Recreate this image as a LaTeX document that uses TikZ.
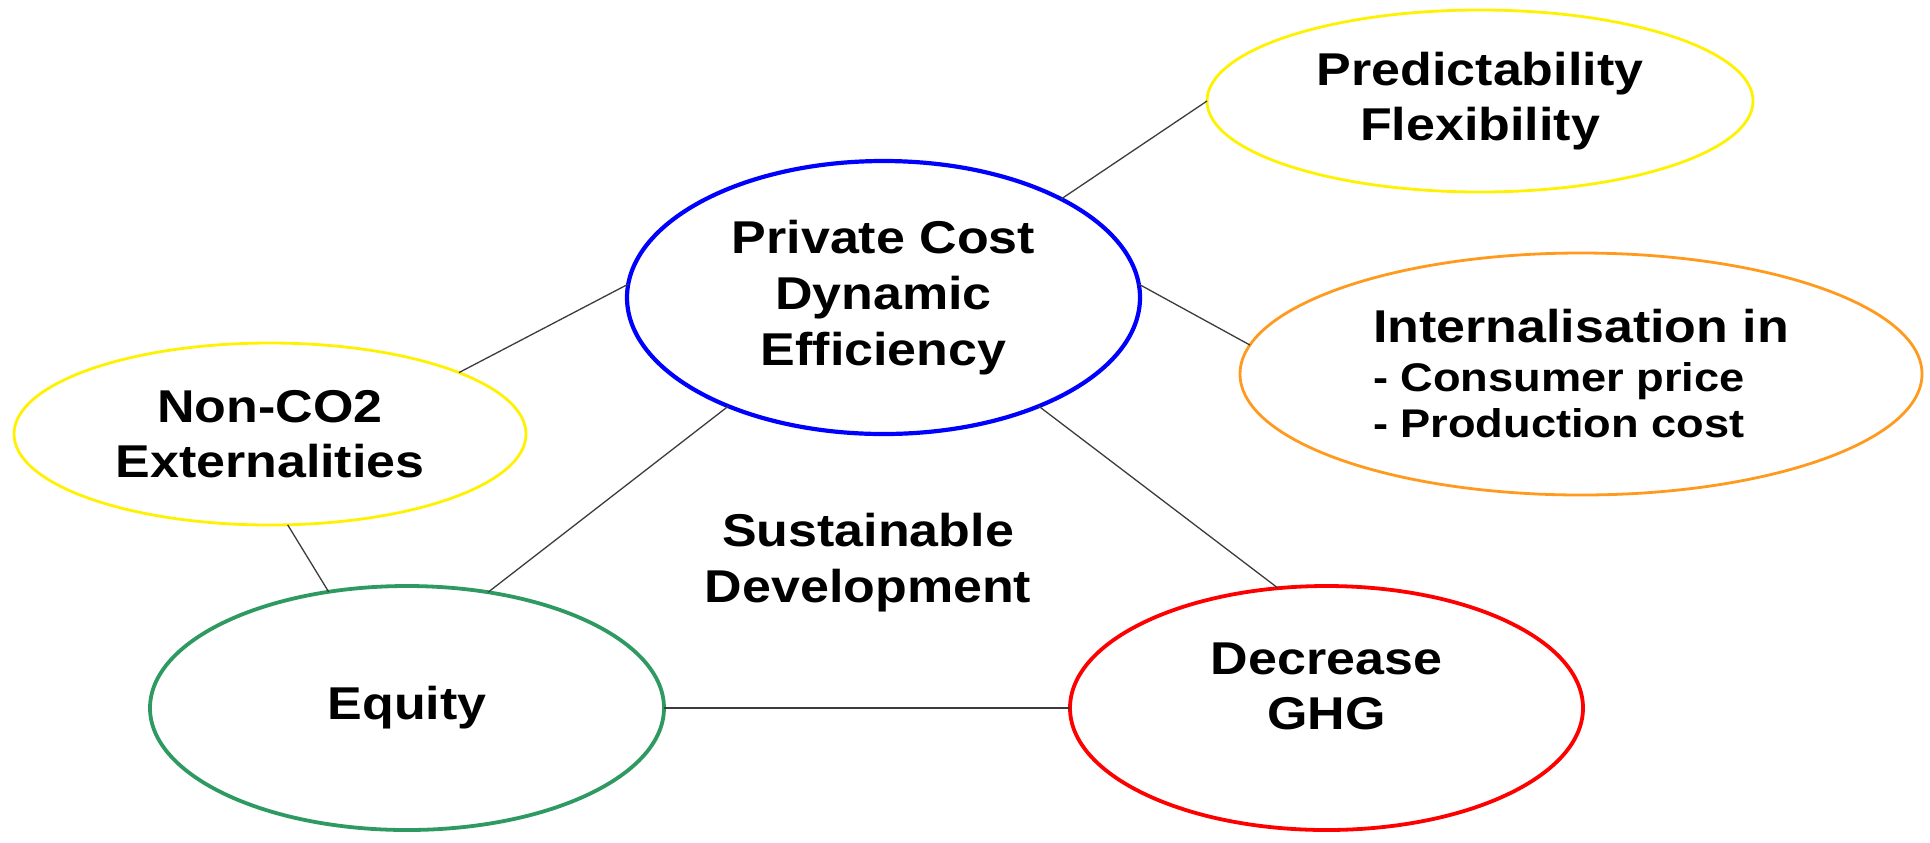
\documentclass[tikz,border=0pt]{standalone}
\usepackage{fontspec}
\setmainfont{Liberation Sans}[FakeStretch=1.13]
\usetikzlibrary{shapes.geometric}
\definecolor{cblue}{HTML}{0000FF}
\definecolor{cyellow}{HTML}{FFF200}
\definecolor{corange}{HTML}{FF9A1E}
\definecolor{cgreen}{HTML}{2E9A62}
\definecolor{cred}{HTML}{FF0000}
\definecolor{clink}{HTML}{3C3C3C}
\begin{document}
\begin{tikzpicture}[x=0.5pt,y=-0.5pt,
  bubble/.style={ellipse,draw,inner sep=0pt,outer sep=0pt,align=center,
    font=\bfseries\fontsize{23}{27.5}\selectfont},
  link/.style={draw=clink,line width=0.65pt}]
  \fill[white] (0,0) rectangle (1930,842);
  \useasboundingbox (0,0) rectangle (1930,842);

  % central goal
  \node[bubble,draw=cblue,line width=2.1pt,minimum width=256.5pt,minimum height=136.5pt,
        font=\bfseries\fontsize{23}{28}\selectfont]
    (pc) at (883.5,297.5) {Private Cost\\Dynamic\\Efficiency};
  \node[bubble,draw=cgreen,line width=1.9pt,minimum width=257pt,minimum height=122pt]
    (eq) at (407,708) {Equity};
  \node[bubble,draw=cred,line width=1.9pt,minimum width=256.5pt,minimum height=122pt,
        text depth=22pt]
    (ghg) at (1326.5,708) {Decrease\\GHG};

  % secondary criteria
  \node[bubble,draw=cyellow,line width=1.4pt,minimum width=273pt,minimum height=91pt]
    (pf) at (1480,101) {Predictability\\Flexibility};
  \node[bubble,draw=cyellow,line width=1.4pt,minimum width=256pt,minimum height=91pt]
    (nc) at (270,434) {Non-CO2\\Externalities};
  \node[bubble,draw=corange,line width=1.4pt,minimum width=341pt,minimum height=121pt,
        align=left,font=\bfseries\fontsize{20}{23.25}\selectfont]
    (int) at (1581,374) {{\fontsize{23}{27.5}\selectfont Internalisation in}\\[1pt]- Consumer price\\- Production cost};

  \node[font=\bfseries\fontsize{23}{28}\selectfont,align=center]
    (sd) at (868,563) {Sustainable\\Development};

  % connectors
  \path[link] (pc.177) -- (nc.18);
  \path[link] (pc.29) -- (pf.180);
  \path[link] (pc.3) -- (int.175);
  \path[link] (pc.-145) -- (eq.55.5);
  \path[link] (pc.-35) -- (ghg.112.7);
  \path[link] (nc.-79.4) -- (eq.124.9);
  \path[link] (eq.east) -- (ghg.west);
\end{tikzpicture}
\end{document}
